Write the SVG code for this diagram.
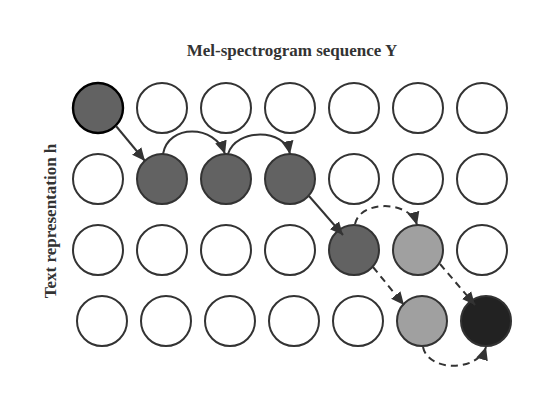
<svg xmlns="http://www.w3.org/2000/svg" width="536" height="400" viewBox="0 0 536 400">
<style>
.n{stroke:#333;stroke-width:2;fill:#fff}
.d{fill:#626262}
.l{fill:#a0a0a0}
.k{fill:#222}
.e{fill:none;stroke:#333;stroke-width:2}
.ds{stroke-dasharray:7,5}
.t{font-family:"Liberation Serif",serif;font-weight:bold;font-size:17px;fill:#333}
</style>
<defs>
<marker id="a" markerWidth="10" markerHeight="10" viewBox="0 0 10 10" refX="9" refY="5" orient="auto" markerUnits="userSpaceOnUse">
<path d="M0,0 L10,5 L0,10 z" fill="#333" transform="scale(1.3) translate(-2.3,-1.15)"/>
</marker>
<marker id="b" markerWidth="14" markerHeight="14" viewBox="0 0 14 14" refX="13" refY="7" orient="auto" markerUnits="userSpaceOnUse">
<path d="M0,1 L13,7 L0,13 z" fill="#333"/>
</marker>
</defs>
<text class="t" x="292" y="56" text-anchor="middle">Mel-spectrogram sequence Y</text>
<text class="t" transform="translate(56,221) rotate(-90)" text-anchor="middle">Text representation h</text>
<g id="nodes">
<g id="r0">
<circle id="n00" cx="98" cy="108" r="25" class="n d" style="stroke:#000;stroke-width:2.4"/>
<circle id="n01" cx="162" cy="108" r="25" class="n"/>
<circle id="n02" cx="226" cy="108" r="25" class="n"/>
<circle id="n03" cx="290" cy="108" r="25" class="n"/>
<circle id="n04" cx="354" cy="108" r="25" class="n"/>
<circle id="n05" cx="418" cy="108" r="25" class="n"/>
<circle id="n06" cx="482" cy="108" r="25" class="n"/>
</g>
<g id="r1">
<circle id="n10" cx="98" cy="179" r="25" class="n"/>
<circle id="n11" cx="162" cy="179" r="25" class="n d"/>
<circle id="n12" cx="226" cy="179" r="25" class="n d"/>
<circle id="n13" cx="290" cy="179" r="25" class="n d"/>
<circle id="n14" cx="354" cy="179" r="25" class="n"/>
<circle id="n15" cx="418" cy="179" r="25" class="n"/>
<circle id="n16" cx="482" cy="179" r="25" class="n"/>
</g>
<g id="r2">
<circle id="n20" cx="98" cy="250" r="25" class="n"/>
<circle id="n21" cx="162" cy="250" r="25" class="n"/>
<circle id="n22" cx="226" cy="250" r="25" class="n"/>
<circle id="n23" cx="290" cy="250" r="25" class="n"/>
<circle id="n24" cx="354" cy="250" r="25" class="n d"/>
<circle id="n25" cx="418" cy="250" r="25" class="n l"/>
<circle id="n26" cx="482" cy="250" r="25" class="n"/>
</g>
<g id="r3">
<circle id="n30" cx="102" cy="321" r="25" class="n"/>
<circle id="n31" cx="166" cy="321" r="25" class="n"/>
<circle id="n32" cx="230" cy="321" r="25" class="n"/>
<circle id="n33" cx="294" cy="321" r="25" class="n"/>
<circle id="n34" cx="358" cy="321" r="25" class="n"/>
<circle id="n35" cx="422" cy="321" r="25" class="n l"/>
<circle id="n36" cx="486" cy="321" r="25" class="n k"/>
</g>
</g>
<g id="connectors">
<path class="e" d="M116,126 L145,161" marker-end="url(#b)"/>
<path class="e" d="M163,154 C168,124 215,124 225,154" marker-end="url(#b)"/>
<path class="e" d="M228,154 C236,128 285,128 290,154" marker-end="url(#b)"/>
<path class="e" d="M309,196 L343,235" marker-end="url(#b)"/>
<path class="e ds" d="M355,224 C360,200 410,200 417,225" marker-end="url(#b)"/>
<path class="e ds" d="M373,267 L404,305" marker-end="url(#b)"/>
<path class="e ds" d="M440,264 L475,305" marker-end="url(#b)"/>
<path class="e ds" d="M423,347 C428,372 478,372 486,347" marker-end="url(#b)"/>
</g>
</svg>
